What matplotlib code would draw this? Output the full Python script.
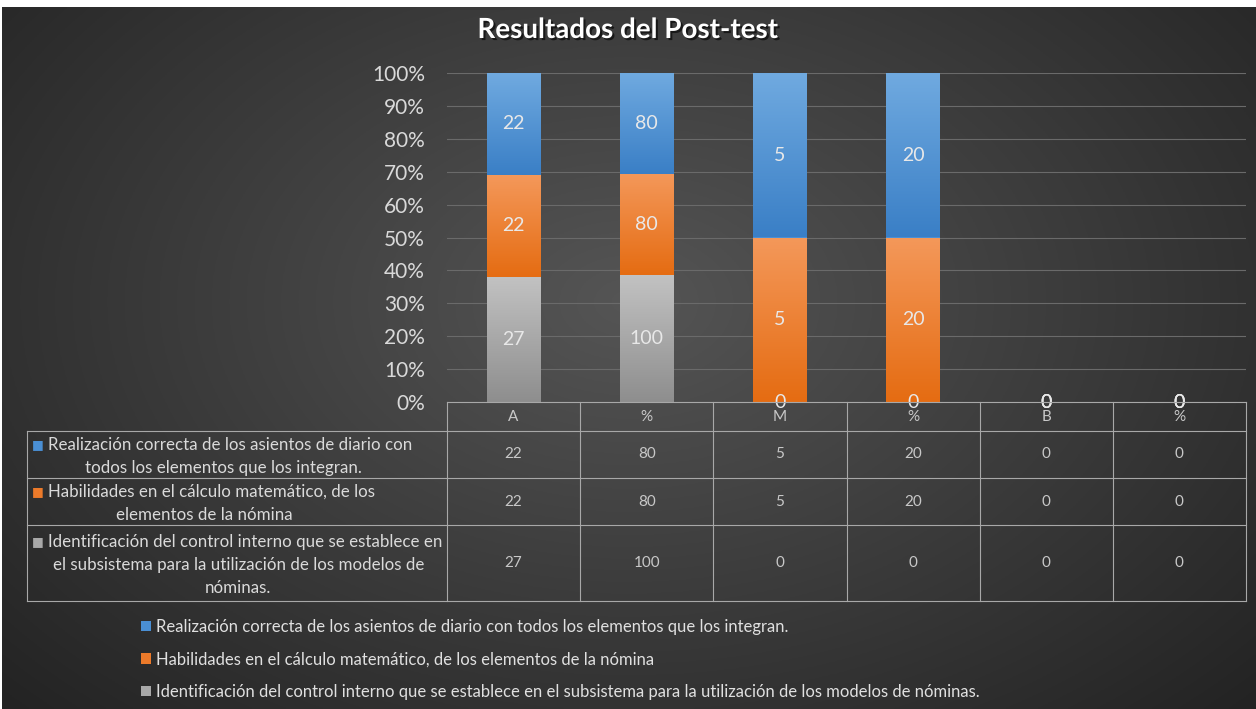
import numpy as np
import matplotlib
matplotlib.use("Agg")
import matplotlib.pyplot as plt
from matplotlib.patches import Patch
from matplotlib.lines import Line2D
import matplotlib.patheffects as pe

plt.rcParams['font.family'] = ['Lato', 'DejaVu Sans']

categories = ["A", "%", "M", "%", "B", "%"]
series_names = [
    "Realización correcta de los asientos de diario con todos los elementos que los integran.",
    "Habilidades en el cálculo matemático, de los elementos de la nómina",
    "Identificación del control interno que se establece en el subsistema para la utilización de los modelos de nóminas.",
]
row_labels = [
    ["Realización correcta de los asientos de diario con", "todos los elementos que los integran."],
    ["Habilidades en el cálculo matemático, de los", "elementos de la nómina"],
    ["Identificación del control interno que se establece en",
     "el subsistema para la utilización de los modelos de", "nóminas."],
]
asientos = [22, 80, 5, 20, 0, 0]
calculo = [22, 80, 5, 20, 0, 0]
control = [27, 100, 0, 0, 0, 0]

colors = ["#4a8fd4", "#ec7a2a", "#a8a8a8"]
grad_top = ["#70aae0", "#f4985a", "#c2c2c2"]
grad_bot = ["#3a7fc6", "#e56c12", "#8e8e8e"]

W, H = 1256, 709
fig = plt.figure(figsize=(W / 100, H / 100), dpi=100)
fig.patch.set_facecolor("white")

def fx(x):
    return x / W

def fy(y):
    return 1 - y / H

# radial background
bg = fig.add_axes([fx(2), 0, 1 - fx(2), fy(7)])
yy, xx = np.mgrid[0:1:300j, 0:1:500j]
r = np.sqrt(((xx - 0.5) / 0.75) ** 2 + ((yy - 0.42) / 0.9) ** 2)
r = np.clip(r, 0, 1)
c0 = np.array([0x55, 0x55, 0x55]) / 255
c1 = np.array([0x1f, 0x1f, 0x1f]) / 255
img = c0[None, None, :] * (1 - r[..., None]) + c1[None, None, :] * r[..., None]
bg.imshow(img, aspect="auto", extent=[0, 1, 0, 1], origin="upper")
bg.axis("off")

ax = fig.add_axes([fx(447), fy(402), fx(1246) - fx(447), fy(73) - fy(402)])
ax.patch.set_alpha(0)

data = [asientos, calculo, control]
totals = np.array(asientos) + np.array(calculo) + np.array(control)
safe = np.where(totals == 0, 1, totals)
pct = [np.array(s) / safe * 100 for s in data]

x = np.arange(len(categories))
bw = 0.405
bottom = np.zeros(len(categories))
order = [2, 1, 0]  # gray at bottom, then orange, then blue
for k in order:
    bars = ax.bar(x, pct[k], bw, bottom=bottom, color=colors[k], zorder=2)
    for i, b in enumerate(bars):
        h = b.get_height()
        if h > 0:
            grad = np.linspace(0, 1, 100)[:, None]
            ct = np.array(matplotlib.colors.to_rgb(grad_top[k]))
            cb = np.array(matplotlib.colors.to_rgb(grad_bot[k]))
            g = ct[None, None, :] * (1 - grad[..., None]) + cb[None, None, :] * grad[..., None]
            im = ax.imshow(g, aspect="auto", origin="upper",
                           extent=[b.get_x(), b.get_x() + bw, bottom[i], bottom[i] + h], zorder=3)
            im.set_clip_path(b)
        ax.text(x[i], bottom[i] + h / 2, str(data[k][i]), ha="center", va="center",
                color="#e8e8e8", fontsize=14, zorder=5)
    bottom = bottom + pct[k]

ax.set_xlim(-0.5, len(categories) - 0.5)
ax.set_ylim(0, 100)
ax.set_yticks(np.arange(0, 101, 10))
ax.set_yticklabels([f"{v}%" for v in range(0, 101, 10)])
ax.tick_params(axis="y", length=0, pad=16, labelsize=15, labelcolor="#d9d9d9")
ax.set_xticks([])
ax.grid(axis="y", color="#6a6a6a", linewidth=0.8, zorder=0)
for s in ax.spines.values():
    s.set_visible(False)

fig.text(0.5, fy(30), "Resultados del Post-test", ha="center", va="center",
         color="white", fontsize=20, fontweight="bold",
         path_effects=[pe.withSimplePatchShadow(offset=(1.5, -1.5), shadow_rgbFace="black", alpha=0.6)])

# data table
line_c = "#a8a8a8"
col_edges = [fx(447) + (fx(1246) - fx(447)) * i / len(categories) for i in range(len(categories) + 1)]
row_edges = [431, 478, 525, 601]
for xe in col_edges:
    fig.add_artist(Line2D([xe, xe], [fy(402), fy(601)], color=line_c, lw=0.8))
fig.add_artist(Line2D([fx(27), fx(27)], [fy(431), fy(601)], color=line_c, lw=0.8))
fig.add_artist(Line2D([fx(447), fx(1246)], [fy(402), fy(402)], color=line_c, lw=0.8))
for ye in row_edges:
    fig.add_artist(Line2D([fx(27), fx(1246)], [fy(ye), fy(ye)], color=line_c, lw=0.8))

cell_c = "#c8c8c8"
for i, c in enumerate(categories):
    cx = (col_edges[i] + col_edges[i + 1]) / 2
    fig.text(cx, fy(417), c, ha="center", va="center", color=cell_c, fontsize=11)
    for r_i, s in enumerate(data):
        cy = (row_edges[r_i] + row_edges[r_i + 1]) / 2
        fig.text(cx, fy(cy), str(s[i]), ha="center", va="center", color=cell_c, fontsize=11)

renderer = fig.canvas.get_renderer()
lab_c = "#dadada"
lh = 23
for r_i, lines in enumerate(row_labels):
    cy = (row_edges[r_i] + row_edges[r_i + 1]) / 2 + 2
    n = len(lines)
    y0 = cy - (n - 1) * lh / 2
    fig.text(fx(32), fy(y0), "■", ha="left", va="center", color=colors[r_i], fontsize=9,
             family="DejaVu Sans")
    first = fig.text(fx(48), fy(y0), lines[0], ha="left", va="center", color=lab_c, fontsize=12.2)
    wpx = first.get_window_extent(renderer).width
    center = (34 + 48 + wpx) / 2
    for j, t in enumerate(lines[1:], start=1):
        fig.text(fx(center), fy(y0 + j * lh), t, ha="center", va="center", color=lab_c, fontsize=12.2)

handles = [Patch(facecolor=c) for c in colors]
fig.legend(handles, series_names, loc="upper left", bbox_to_anchor=(fx(126), fy(604)),
           frameon=False, fontsize=12.0, labelcolor="#e0e0e0", handlelength=0.6,
           handleheight=0.6, handletextpad=0.3, labelspacing=0.98)

fig.savefig("out.png", dpi=100)
